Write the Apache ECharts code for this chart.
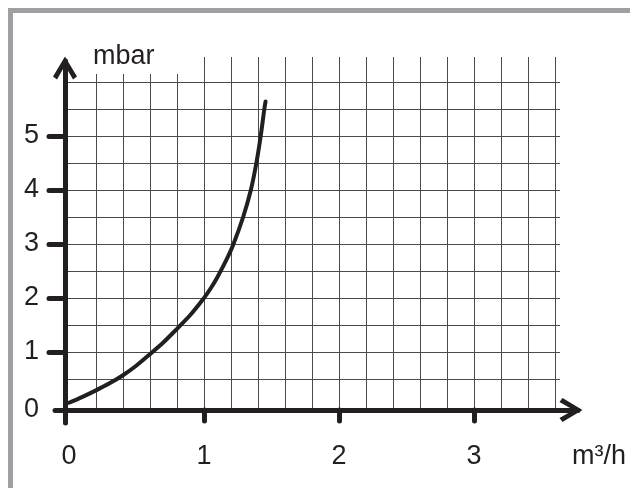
<!DOCTYPE html>
<html style="height: 100%">
<head>
	<meta charset="utf-8">
	<title></title>
	<script type="text/javascript" src="https://cdn.jsdelivr.net/npm/echarts@6/dist/echarts.min.js"></script>
	<style>
		body { margin: 0; background: #fff; }
		#frame { position: absolute; left: 8px; top: 8px; width: 640px; height: 500px;
			border-top: 5px solid #9e9fa2; border-left: 5px solid #9e9fa2; }
		#container { position: absolute; left: 0; top: 0; width: 630px; height: 488px; }
	</style>
</head>
<body>
<div id="frame"></div>
<div id="container"></div>
<script type="text/javascript">
	// curve (m3/h -> mbar)
	var flow = [0, 0.1, 0.2, 0.3, 0.4, 0.5, 0.6, 0.7, 0.8, 0.9, 1.0, 1.05, 1.1, 1.163, 1.217, 1.29, 1.347, 1.388, 1.42, 1.447, 1.456];
	var pressure = [0.06, 0.17, 0.29, 0.42, 0.57, 0.75, 0.96, 1.18, 1.43, 1.69, 2.0, 2.18, 2.39, 2.69, 2.99, 3.5, 4.0, 4.5, 5.0, 5.5, 5.64];
	var xTicks = [0, 1, 2, 3];
	var yTicks = [0, 1, 2, 3, 4, 5];

	// pixel layout: value 0/0 sits at (X0, Y0)
	var W = 630, H = 488;
	var X0 = 69, Y0 = 406, KX = 135, KY = 54;
	function xv(px) { return (px - X0) / KX; }
	function yv(py) { return (Y0 - py) / KY; }

	var ink = '#231f20';
	var font = "'Liberation Sans', Arial, sans-serif";
	var gridColor = '#4a4a4a';
	var chevron = 'path://M12,0 L24,20 L20,23 L12,9 L4,23 L0,20 Z';

	var data = [];
	for (var i = 0; i < flow.length; i++) {
		data.push([flow[i], pressure[i]]);
	}
	// the "0" of the y scale sits on the x axis line
	var yLabelValues = yTicks.map(function (v) { return v === 0 ? yv(410) : v; });

	var dom = document.getElementById('container');
	var myChart = echarts.init(dom);

	var option = {
		animation: false,
		title: [
			{
				text: 'mbar', left: 88, top: 35, padding: [8, 28, 4, 5],
				backgroundColor: '#fff',
				textStyle: { fontFamily: font, fontSize: 27, fontWeight: 'normal', color: ink }
			},
			{
				text: 'm³/h', left: 572, top: 443, padding: 0,
				textStyle: { fontFamily: font, fontSize: 27, fontWeight: 'normal', color: ink }
			}
		],
		grid: [
			// horizontal lines
			{ left: 65, right: W - 560, top: Y0 - 6 * KY, bottom: H - (Y0 - 0.5 * KY), outerBoundsMode: 'none' },
			// vertical lines
			{ left: X0 + 0.2 * KX, right: W - (X0 + 3.6 * KX), top: 57, bottom: H - 410, outerBoundsMode: 'none' },
			// axes + curve
			{ left: 55, right: W - 578, top: 61, bottom: H - 423, outerBoundsMode: 'none' }
		],
		xAxis: [
			{ gridIndex: 0, type: 'value', min: 0, max: 1, show: false },
			{
				gridIndex: 1, type: 'value', min: 0.2, max: 3.6, interval: 0.2,
				axisLine: { show: false }, axisTick: { show: false }, axisLabel: { show: false },
				splitLine: { show: true, lineStyle: { color: gridColor, width: 1 } }
			},
			{
				gridIndex: 2, type: 'value', min: xv(55), max: xv(578), position: 'bottom', offset: -13,
				axisLine: {
					show: true, onZero: false,
					symbol: ['none', chevron], symbolSize: [24, 24], symbolOffset: [0, -7],
					lineStyle: { color: ink, width: 5 }
				},
				axisTick: { show: true, length: 11, customValues: [1, 2, 3], lineStyle: { color: ink, width: 5, cap: 'round' } },
				axisLabel: {
					show: true, customValues: xTicks, margin: 33,
					fontFamily: font, fontSize: 27, color: ink
				},
				splitLine: { show: false }
			}
		],
		yAxis: [
			{
				gridIndex: 0, type: 'value', min: 0.5, max: 6, interval: 0.5,
				axisLine: { show: false }, axisTick: { show: false }, axisLabel: { show: false },
				splitLine: { show: true, lineStyle: { color: gridColor, width: 1 } }
			},
			{ gridIndex: 1, type: 'value', min: 0, max: 1, show: false },
			{
				gridIndex: 2, type: 'value', min: yv(423), max: yv(61), position: 'left', offset: -10,
				axisLine: {
					show: true, onZero: false,
					symbol: ['none', chevron], symbolSize: [24, 24], symbolOffset: [0, -7],
					lineStyle: { color: ink, width: 5 }
				},
				axisTick: { show: true, length: 16, customValues: [1, 2, 3, 4, 5], lineStyle: { color: ink, width: 5, cap: 'round' } },
				axisLabel: {
					show: true, customValues: yLabelValues, margin: 26,
					fontFamily: font, fontSize: 27, color: ink,
					formatter: function (v) { return String(Math.abs(Math.round(v))); }
				},
				splitLine: { show: false }
			}
		],
		series: [
			{
				type: 'line', xAxisIndex: 2, yAxisIndex: 2,
				data: data, smooth: 0.3, showSymbol: false, clip: false,
				lineStyle: { color: ink, width: 4, cap: 'round' }
			}
		]
	};

	myChart.setOption(option);
</script>
</body>
</html>
